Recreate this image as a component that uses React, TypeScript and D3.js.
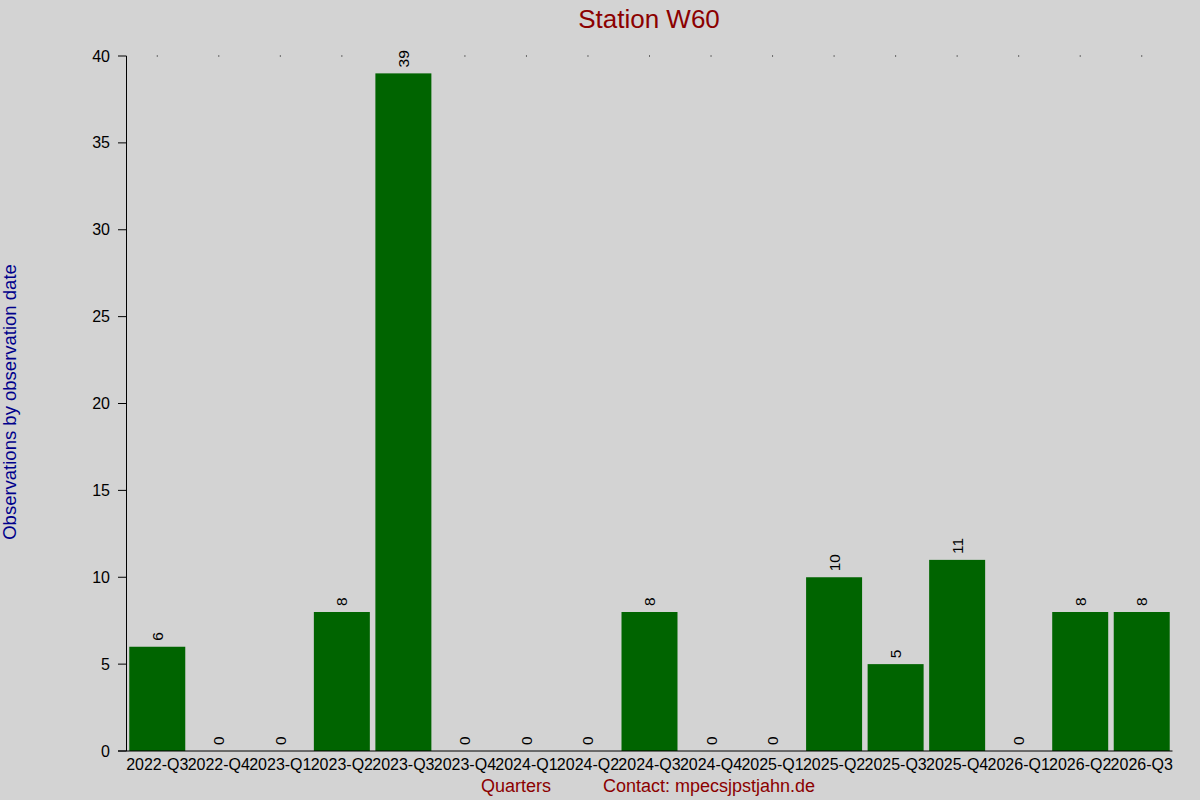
import React from "react";
import * as d3 from "d3";

const categories = [
  "2022-Q3", "2022-Q4", "2023-Q1", "2023-Q2", "2023-Q3", "2023-Q4",
  "2024-Q1", "2024-Q2", "2024-Q3", "2024-Q4", "2025-Q1", "2025-Q2",
  "2025-Q3", "2025-Q4", "2026-Q1", "2026-Q2", "2026-Q3",
];
const values = [6, 0, 0, 8, 39, 0, 0, 0, 8, 0, 0, 10, 5, 11, 0, 8, 8];
const yTicks = [0, 5, 10, 15, 20, 25, 30, 35, 40];

const title = "Station W60";
const yLabel = "Observations by observation date";
const xLabel = "Quarters";
const contact = "Contact: mpecsjpstjahn.de";

const W = 1200;
const H = 800;
const FONT = "'Liberation Sans', Arial, sans-serif";

export default function App() {
  const x = d3
    .scaleBand<string>()
    .domain(categories)
    .range([126.5, 1172.5])
    .paddingInner(0.09)
    .paddingOuter(0.045);
  const y = d3.scaleLinear().domain([0, 40]).range([751, 56]);
  const axisX = 126.5;

  return (
    <svg
      width={W}
      height={H}
      style={{ position: "fixed", left: 0, top: 0, background: "#d3d3d3" }}
      fontFamily={FONT}
    >
      <rect x={0} y={0} width={W} height={H} fill="#d3d3d3" />
      <text x={649} y={28} textAnchor="middle" fontSize={26} fill="#8b0000">
        {title}
      </text>
      <text
        transform={`translate(16,402) rotate(-90)`}
        textAnchor="middle"
        fontSize={18.5}
        fill="#00008b"
      >
        {yLabel}
      </text>

      {/* bars */}
      {categories.map((c, i) => (
        <rect
          key={c}
          x={x(c)}
          y={y(values[i])}
          width={x.bandwidth()}
          height={y(0) - y(values[i])}
          fill="#006400"
        />
      ))}

      {/* value labels */}
      {categories.map((c, i) => {
        const cx = (x(c) as number) + x.bandwidth() / 2;
        const ty = y(values[i]) - 6;
        return (
          <text
            key={c}
            transform={`translate(${cx + 5.5},${ty}) rotate(-90)`}
            fontSize={15.5}
            fill="#000"
            textAnchor="start"
          >
            {values[i]}
          </text>
        );
      })}

      {/* top dots */}
      {categories.map((c) => {
        const cx = (x(c) as number) + x.bandwidth() / 2;
        return <rect key={c} x={cx - 0.5} y={55.5} width={1} height={1} fill="#000" />;
      })}

      {/* y axis */}
      <line x1={axisX} x2={axisX} y1={y(40)} y2={y(0)} stroke="#000" strokeWidth={1} />
      {yTicks.map((t) => (
        <g key={t}>
          <line x1={118} x2={axisX} y1={y(t)} y2={y(t)} stroke="#000" strokeWidth={1} />
          <text
            x={110}
            y={y(t)}
            dy="0.35em"
            textAnchor="end"
            fontSize={16}
            fill="#000"
          >
            {t}
          </text>
        </g>
      ))}

      {/* x axis */}
      <line x1={118} x2={1172.5} y1={y(0)} y2={y(0)} stroke="#000" strokeWidth={1} />
      {categories.map((c) => {
        const cx = (x(c) as number) + x.bandwidth() / 2;
        return (
          <text key={c} x={cx} y={770} textAnchor="middle" fontSize={16} fill="#000">
            {c}
          </text>
        );
      })}

      <text x={516} y={792} textAnchor="middle" fontSize={18} fill="#8b0000">
        {xLabel}
      </text>
      <text x={603} y={792} textAnchor="start" fontSize={18} fill="#8b0000">
        {contact}
      </text>
    </svg>
  );
}
